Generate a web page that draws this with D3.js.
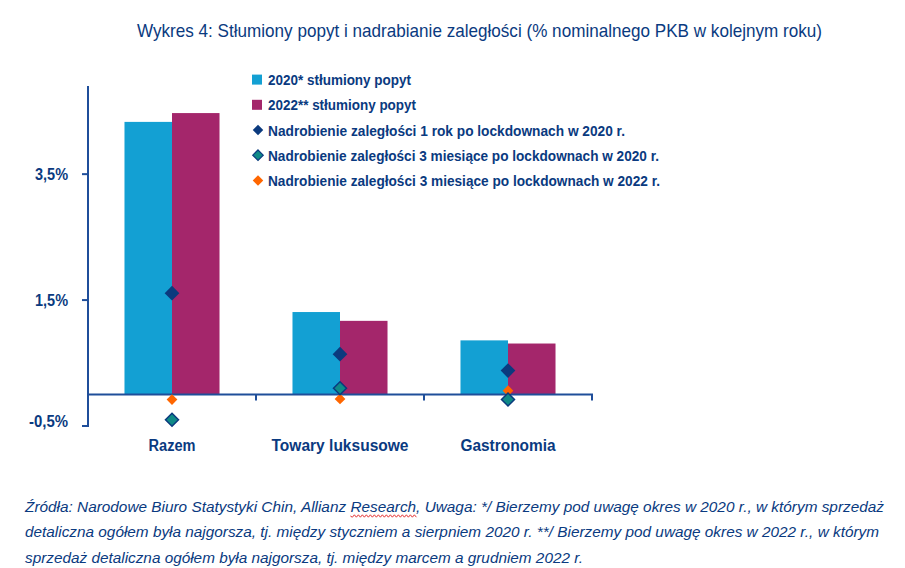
<!DOCTYPE html>
<html><head><meta charset="utf-8">
<script src="https://cdn.jsdelivr.net/npm/d3@7"></script>
<style>body{margin:0;background:#fff}svg{display:block;font-family:"Liberation Sans",Arial,sans-serif}</style>
</head><body><svg id="c" width="905" height="568"></svg>
<script>
const categories = ["Razem", "Towary luksusowe", "Gastronomia"];
const pent2020 = [4.33, 1.31, 0.86];
const pent2022 = [4.47, 1.17, 0.81];
const catch1y2020 = [1.61, 0.64, 0.38];
const catch3m2020 = [-0.40, 0.10, -0.08];
const catch3m2022 = [-0.08, -0.07, 0.06];
const yTicks = [-0.5, 1.5, 3.5];
const yTickLabels = ["-0,5%", "1,5%", "3,5%"];
const title = "Wykres 4: Stłumiony popyt i nadrabianie zaległości (% nominalnego PKB w kolejnym roku)";
const legendLabels = [
  "2020* stłumiony popyt",
  "2022** stłumiony popyt",
  "Nadrobienie zaległości 1 rok po lockdownach w 2020 r.",
  "Nadrobienie zaległości 3 miesiące po lockdownach w 2020 r.",
  "Nadrobienie zaległości 3 miesiące po lockdownach w 2022 r."
];
const footLines = [
  "Źródła: Narodowe Biuro Statystyki Chin, Allianz Research, Uwaga: */ Bierzemy pod uwagę okres w 2020 r., w którym sprzedaż",
  "detaliczna ogółem była najgorsza, tj. między styczniem a sierpniem 2020 r. **/ Bierzemy pod uwagę okres w 2022 r., w którym",
  "sprzedaż detaliczna ogółem była najgorsza, tj. między marcem a grudniem 2022 r."
];

const legendWidths = [143, 148, 357, 391, 392];
const footWidths = [859, 854, 558];
const tickLabelWidths = [39, 33, 33];
const catLabelWidths = [47, 137, 95];

const TXT = "#0a3a80", AX = "#1f4e9a";
const C2020 = "#13a0d3", C2022 = "#a4266b", CNAVY = "#0b3a7e", CTEAL = "#0f8a87", CORANGE = "#ff6600";
const svg = d3.select("#c");

const x = d3.scaleBand().domain(categories).range([88, 592]).padding(0);
const x1 = d3.scaleBand().domain(["2020","2022"]).range([0, x.bandwidth()]).paddingInner(0).paddingOuter(0.768);
const y = d3.scaleLinear().domain([-0.5, 4.9]).range([426, 86]);

// title
svg.append("text").attr("x", 137).attr("y", 37).attr("font-size", 19).attr("fill", TXT)
  .attr("textLength", 685).attr("lengthAdjust", "spacingAndGlyphs").text(title);

// bars
const series = [{k:"2020", v:pent2020, c:C2020}, {k:"2022", v:pent2022, c:C2022}];
series.forEach(s => {
  svg.append("g").selectAll("rect").data(categories).join("rect")
    .attr("x", (d) => x(d) + x1(s.k))
    .attr("width", x1.bandwidth())
    .attr("y", (d,i) => y(Math.max(0, s.v[i])))
    .attr("height", (d,i) => Math.abs(y(s.v[i]) - y(0)))
    .attr("fill", s.c);
});

// y axis
const yAxis = svg.append("g");
yAxis.append("line").attr("x1", 88).attr("x2", 88).attr("y1", y(-0.5) + 1).attr("y2", y(4.9)).attr("stroke", AX).attr("stroke-width", 2);
yTicks.forEach((t, i) => {
  yAxis.append("line").attr("x1", 82).attr("x2", 88).attr("y1", y(t)).attr("y2", y(t)).attr("stroke", AX).attr("stroke-width", 2);
  yAxis.append("text").attr("x", 68).attr("y", y(t) + (t < 0 ? 1 : 6)).attr("text-anchor", "end")
    .attr("font-size", 17).attr("font-weight", "bold").attr("fill", TXT)
    .attr("textLength", tickLabelWidths[i]).attr("lengthAdjust", "spacingAndGlyphs").text(yTickLabels[i]);
});

// x axis baseline at zero
const xAxis = svg.append("g");
xAxis.append("line").attr("x1", 88).attr("x2", 593).attr("y1", y(0)).attr("y2", y(0)).attr("stroke", AX).attr("stroke-width", 2);
categories.forEach((c, i) => {
  const xe = x(c) + x.bandwidth();
  xAxis.append("line").attr("x1", xe).attr("x2", xe).attr("y1", y(0)).attr("y2", y(0) + 6).attr("stroke", AX).attr("stroke-width", 2);
  xAxis.append("text").attr("x", x(c) + x.bandwidth()/2).attr("y", 451).attr("text-anchor", "middle")
    .attr("font-size", 16).attr("font-weight", "bold").attr("fill", TXT)
    .attr("textLength", catLabelWidths[i]).attr("lengthAdjust", "spacingAndGlyphs").text(c);
});

// diamonds
const diamond = (side) => { const h = side/2*Math.SQRT2; return `M0,${-h}L${h},0L0,${h}L${-h},0Z`; };
const pts = [
  {v:catch3m2022, c:CORANGE, s:7.6, st:"none"},
  {v:catch3m2020, c:CTEAL, s:9.2, st:CNAVY},
  {v:catch1y2020, c:CNAVY, s:10.4, st:"none"}
];
pts.forEach(p => {
  svg.append("g").selectAll("path").data(categories).join("path")
    .attr("d", diamond(p.s))
    .attr("transform", (d,i) => `translate(${x(d) + x.bandwidth()/2},${y(p.v[i])})`)
    .attr("fill", p.c).attr("stroke", p.st).attr("stroke-width", p.st === "none" ? 0 : 1.5);
});

// legend
const legendKinds = [{t:"rect", c:C2020}, {t:"rect", c:C2022}, {t:"dia", c:CNAVY}, {t:"dia", c:CTEAL}, {t:"dia", c:CORANGE}];
const ly = d3.scaleBand().domain(legendLabels).range([67, 193]);
legendLabels.forEach((lab, i) => {
  const cy = ly(lab) + ly.bandwidth()/2;
  const k = legendKinds[i];
  if (k.t === "rect") {
    svg.append("rect").attr("x", 252).attr("y", cy - 5).attr("width", 10).attr("height", 10).attr("fill", k.c);
  } else {
    svg.append("path").attr("d", diamond(7.4)).attr("transform", `translate(258,${cy})`).attr("fill", k.c)
      .attr("stroke", k.c === CTEAL ? CNAVY : "none").attr("stroke-width", 1.2);
  }
  svg.append("text").attr("x", 268).attr("y", cy + 5.5).attr("font-size", 15.5).attr("font-weight", "bold").attr("fill", TXT)
    .attr("textLength", legendWidths[i]).attr("lengthAdjust", "spacingAndGlyphs").text(lab);
});

// footnote
footLines.forEach((l, i) => {
  const t = svg.append("text").attr("x", 25).attr("y", 511.5 + i * 25.5).attr("font-size", 15.5).attr("font-style", "italic")
    .attr("fill", TXT).attr("textLength", footWidths[i]).attr("lengthAdjust", "spacingAndGlyphs").text(l);
  const idx = l.indexOf("Research");
  if (idx >= 0) {
    const node = t.node();
    const x0 = node.getStartPositionOfChar(idx).x;
    const x1e = node.getEndPositionOfChar(idx + 7).x;
    let d = `M${x0},516`;
    for (let xx = x0, k = 0; xx < x1e; xx += 2, k++) d += `L${xx + 2},${516 + (k % 2 ? -1.2 : 1.2)}`;
    svg.append("path").attr("d", d).attr("fill", "none").attr("stroke", "#e02020").attr("stroke-width", 0.9);
  }
});
</script></body></html>
